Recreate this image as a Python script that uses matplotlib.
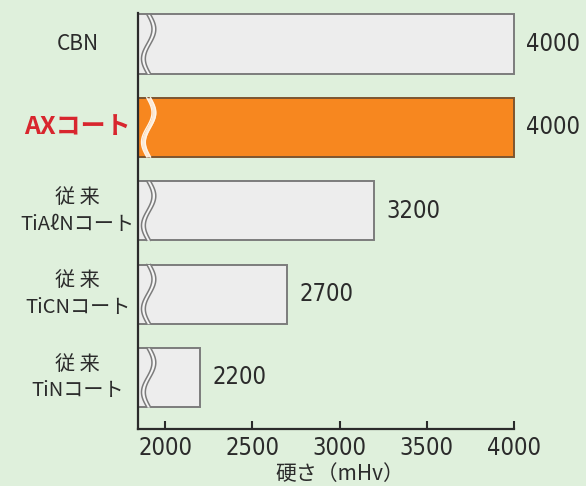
import numpy as np
import matplotlib
matplotlib.use("Agg")
import matplotlib.pyplot as plt
from matplotlib import font_manager

# data (top to bottom in the picture)
categories = ["CBN", "AXコート", "従 来\nTiAℓNコート", "従 来\nTiCNコート", "従 来\nTiNコート"]
hardness = [4000, 4000, 3200, 2700, 2200]
highlight = [False, True, False, False, False]
xticks = [2000, 2500, 3000, 3500, 4000]

plt.rcParams['font.family'] = ['Noto Sans CJK JP', 'DejaVu Sans']

# look for a narrow face for the numbers
num_prop = None
for f in font_manager.fontManager.ttflist:
    fname = f.fname.lower()
    if 'narrow' in fname or 'condensed' in fname:
        if 'bold' in fname or 'oblique' in fname or 'italic' in fname:
            continue
        num_prop = font_manager.FontProperties(fname=f.fname)
        if 'liberationsansnarrow' in fname.replace('-', '') or 'sanscondensed' in fname:
            break
num_size = 17 if num_prop is not None else 15
if num_prop is None:
    num_prop = font_manager.FontProperties(family='DejaVu Sans')
num_prop.set_size(num_size)

BG = '#dff0dc'
GRAY_FILL = '#ededed'
GRAY_EDGE = '#7c7c7c'
ORANGE = '#f7871f'
ORANGE_EDGE = '#7d5530'
DARK = '#2b2b2b'

fig = plt.figure(figsize=(5.86, 4.86), dpi=100, facecolor=BG)
ax = fig.add_axes([0.2355, 0.1173, 0.6416, 0.856])
ax.set_facecolor(BG)

xmin = 1845
n = len(categories)
ypos = np.arange(n)[::-1]  # CBN at top
bar_h = 0.71

for y, v, hl in zip(ypos, hardness, highlight):
    fc = ORANGE if hl else GRAY_FILL
    ec = ORANGE_EDGE if hl else GRAY_EDGE
    ax.barh(y, v - xmin, left=xmin, height=bar_h, color=fc, edgecolor=ec,
            linewidth=1.4, clip_on=False, zorder=2)

    # wavy break mark on the left end of the bar
    t = np.linspace(0, 1, 60)
    yy = y + bar_h / 2 - t * bar_h
    x1 = 1895 + 30 * np.sin(2 * np.pi * t)
    x2 = x1 + 22
    if hl:
        ax.fill_betweenx(yy, x1, x2, color='#fbe9d6', lw=0, zorder=3)
        ax.plot(x1, yy, color='#fff4e8', lw=1.0, zorder=4)
        ax.plot(x2, yy, color='#fff4e8', lw=1.0, zorder=4)
    else:
        ax.fill_betweenx(yy, x1, x2, color='#f6f6f6', lw=0, zorder=3)
        ax.plot(x1, yy, color=GRAY_EDGE, lw=1.1, zorder=4)
        ax.plot(x2, yy, color=GRAY_EDGE, lw=1.1, zorder=4)

    ax.text(v + 70, y, str(v), ha='left', va='center', fontproperties=num_prop,
            color=DARK, clip_on=False)

# category labels
for y, lab, hl in zip(ypos, categories, highlight):
    if hl:
        ax.text(-0.16, y, lab, transform=ax.get_yaxis_transform(),
                ha='center', va='center', fontsize=18, color='#d8262e',
                fontweight='bold')
    else:
        ax.text(-0.16, y, lab, transform=ax.get_yaxis_transform(),
                ha='center', va='center', fontsize=14.5 if '\n' in lab else 15,
                color=DARK, linespacing=1.35, multialignment='center')

ax.set_xlim(xmin, 4000)
ax.set_ylim(-0.618, 4.372)
ax.set_yticks([])
ax.set_xticks(xticks)
ax.set_xticklabels([str(x) for x in xticks], fontproperties=num_prop, color=DARK)
ax.tick_params(axis='x', direction='in', length=6, width=1.5, color=DARK, pad=5)

for s in ['top', 'right']:
    ax.spines[s].set_visible(False)
for s in ['left', 'bottom']:
    ax.spines[s].set_color(DARK)
    ax.spines[s].set_linewidth(1.6)

fig.text(0.58, 0.002, "硬さ（mHv）", ha='center', va='bottom', fontsize=15, color=DARK)

fig.savefig("out.png", dpi=100, facecolor=BG)
